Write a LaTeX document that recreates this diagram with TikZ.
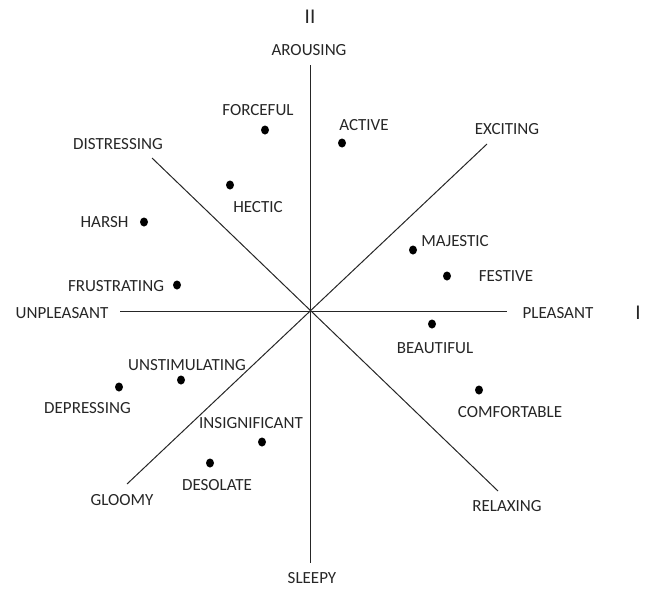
\documentclass[tikz,border=0pt]{standalone}
\usepackage{fontspec}
\setmainfont{Carlito}
\usetikzlibrary{shapes.geometric}
\begin{document}
\begin{tikzpicture}[x=1pt,y=-1pt,
  axis/.style={draw=black!85, line width=1pt},
  lab/.style={inner sep=0pt, text=black!85, font=\fontsize{17}{17}\selectfont},
  big/.style={inner sep=0pt, text=black!85, font=\fontsize{21}{21}\selectfont},
  pt/.style={ellipse, fill=black, inner sep=0pt, minimum width=8pt, minimum height=9pt}]
\useasboundingbox (0,0) rectangle (647,589);
% axis ends
\coordinate (N) at (310,65);
\coordinate (S) at (310,563);
\coordinate (W) at (120,311.5);
\coordinate (E) at (507,311.5);
\coordinate (NW) at (152,158);
\coordinate (SE) at (498,491);
\coordinate (NE) at (487,144);
\coordinate (SW) at (127,484);
\draw[axis] (N) -- (S);
\draw[axis] (W) -- (E);
\draw[axis] (NW) -- (SE);
\draw[axis] (NE) -- (SW);
% axis labels
\node[big] (II) at (310,17) {II};
\node[big] (I) at (638,313) {I};
\node[lab] (arousing) at (309,50) {AROUSING};
\node[lab] (sleepy) at (312,578) {SLEEPY};
\node[lab] (unpleasant) at (62,313) {UNPLEASANT};
\node[lab] (pleasant) at (558,313) {PLEASANT};
\node[lab] (distressing) at (118,144) {DISTRESSING};
\node[lab] (exciting) at (507,129) {EXCITING};
\node[lab] (gloomy) at (122,500) {GLOOMY};
\node[lab] (relaxing) at (507,506) {RELAXING};
% data points
\node[pt] (pforceful) at (265,130) {};
\node[lab] (forceful) at (258,110) {FORCEFUL};
\node[pt] (pactive) at (342,143) {};
\node[lab] (active) at (364,125) {ACTIVE};
\node[pt] (phectic) at (230,185) {};
\node[lab] (hectic) at (258,207) {HECTIC};
\node[pt] (pharsh) at (144,222) {};
\node[lab] (harsh) at (104.5,222) {HARSH};
\node[pt] (pfrustrating) at (177,285) {};
\node[lab] (frustrating) at (116,286) {FRUSTRATING};
\node[pt] (pmajestic) at (413,250) {};
\node[lab] (majestic) at (455,241) {MAJESTIC};
\node[pt] (pfestive) at (447,276) {};
\node[lab] (festive) at (506,276) {FESTIVE};
\node[pt] (pbeautiful) at (432,324) {};
\node[lab] (beautiful) at (435,348) {BEAUTIFUL};
\node[pt] (pcomfortable) at (479,390) {};
\node[lab] (comfortable) at (510,412) {COMFORTABLE};
\node[pt] (punstimulating) at (181,380) {};
\node[lab] (unstimulating) at (187,365) {UNSTIMULATING};
\node[pt] (pdepressing) at (119,387) {};
\node[lab] (depressing) at (87.5,408) {DEPRESSING};
\node[pt] (pinsignificant) at (262,442) {};
\node[lab] (insignificant) at (251,423) {INSIGNIFICANT};
\node[pt] (pdesolate) at (210,463) {};
\node[lab] (desolate) at (217,485) {DESOLATE};
\end{tikzpicture}
\end{document}
